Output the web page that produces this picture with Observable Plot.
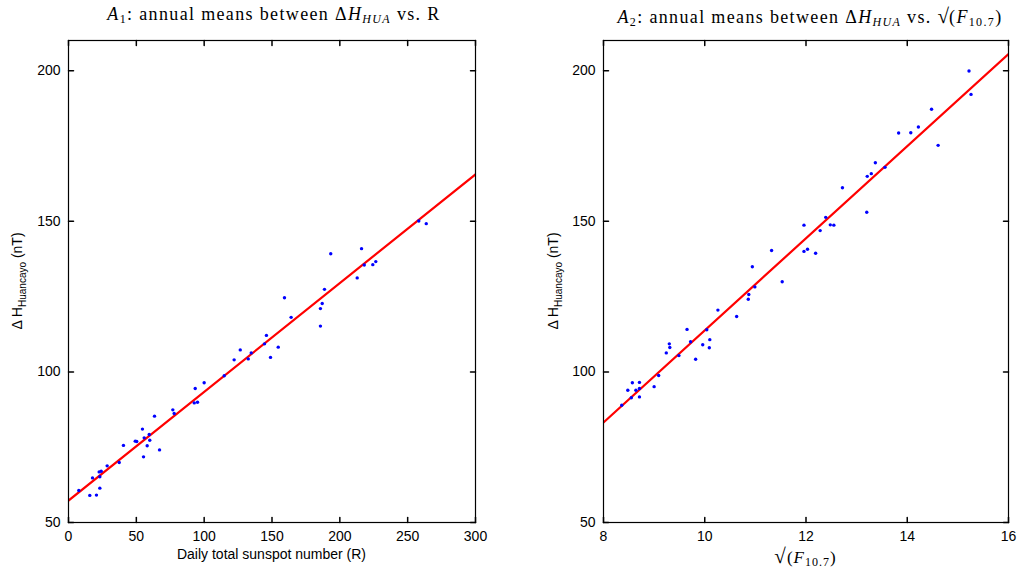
<!DOCTYPE html>
<html><head><meta charset="utf-8">
<script src="https://cdn.jsdelivr.net/npm/d3@7"></script>
<script src="https://cdn.jsdelivr.net/npm/@observablehq/plot@0.6"></script>
<style>
body{margin:0;background:#fff;}
#wrap{position:relative;width:1023px;height:570px;overflow:hidden;background:#fff;}
.panel{position:absolute;top:0;height:570px;}
.panel svg{position:absolute;top:30px;left:0;}
.title{position:absolute;top:4px;font-family:"Liberation Serif","DejaVu Serif",serif;font-size:18px;letter-spacing:1.35px;white-space:nowrap;transform:translateX(-50%);color:#000;}
.title i{font-style:italic;}
.title sub{font-size:12px;vertical-align:-3px;}
.title .rt{font-size:21px;letter-spacing:0;}
</style></head>
<body><div id="wrap"></div>
<script>
// ---- data: panel A1 (sunspot number R vs ΔH Huancayo) ----
const sunspotR = [7.6,15.7,20.6,17.7,23.1,22.6,24.1,23.1,28.5,37.4,40.5,49.2,50.3,54.5,55.8,55.3,58.0,59.9,59.5,63.4,67.1,76.9,77.9,92.7,95.1,93.4,100.0,114.8,122.1,126.6,132.5,134.7,145.9,144.5,148.9,154.6,159.2,164.1,185.7,185.7,187.0,188.7,193.3,212.8,216.0,218.0,224.3,226.5,258.2,263.7];
const dH_A1 = [60.6,59.0,59.1,64.8,61.4,66.8,67.0,65.2,68.8,69.9,75.6,77.0,76.9,81.0,78.1,71.8,75.5,77.3,79.2,85.3,74.1,87.4,86.2,89.7,89.9,94.5,96.4,98.7,104.0,107.3,104.3,106.3,112.1,109.3,104.8,108.2,124.6,118.1,115.2,121.0,122.7,127.4,139.2,131.2,140.9,135.5,135.6,136.6,150.1,149.2];
// ---- data: panel A2 (sqrt(F10.7) vs ΔH Huancayo) ----
const sqrtF107 = [8.36,8.48,8.57,8.55,8.64,8.71,8.71,8.71,9.00,9.09,9.24,9.30,9.31,9.49,9.65,9.72,9.82,9.96,10.04,10.10,10.09,10.26,10.63,10.87,10.86,10.99,10.94,11.32,11.53,11.96,12.03,12.19,11.96,12.28,12.39,12.48,12.55,12.72,13.20,13.21,13.29,13.37,13.56,13.83,14.07,14.22,14.48,14.61,15.22,15.26];
const dH_A2 = [88.9,93.9,96.4,91.4,93.9,96.5,94.5,91.7,95.1,98.8,106.3,109.3,108.1,105.4,114.1,110.0,104.2,109.0,114.0,110.7,108.0,120.5,118.4,125.7,124.1,128.2,134.9,140.3,129.9,140.0,140.7,139.4,148.7,146.9,151.3,148.8,148.7,161.1,153.0,164.9,165.8,169.4,167.9,179.3,179.4,181.3,187.2,175.2,199.9,192.1];
// ---- axes ----
const xDomainA1 = [0, 300], xTicksA1 = [0,50,100,150,200,250,300];
const xDomainA2 = [8, 16],  xTicksA2 = [8,10,12,14,16];
const yDomain = [50, 210],  yTicks = [50,100,150,200];

function fit(xs, ys){
  const mx=d3.mean(xs), my=d3.mean(ys);
  let sxy=0,sxx=0;
  xs.forEach((x,i)=>{sxy+=(x-mx)*(ys[i]-my); sxx+=(x-mx)*(x-mx);});
  const b=sxy/sxx; return {a:my-b*mx,b};
}
const tickShape = {draw(ctx,l){ctx.moveTo(0,0);ctx.lineTo(0,-l);}};
const FONT = '"Liberation Sans", Arial, sans-serif';

function makePanel(xs, ys, xDomain, xTicks, width, mL, mR){
  const f = fit(xs, ys);
  const pts = xs.map((x,i)=>({x, y:ys[i]}));
  const lineData = xDomain.map(x=>({x, y:f.a+f.b*x}));
  const T = 5;
  return Plot.plot({
    width, height: 540,
    marginLeft: mL, marginRight: mR, marginTop: 10, marginBottom: 48,
    style: {fontFamily: FONT, fontSize: "14px", background: "#fff", color: "#000"},
    x: {domain: xDomain, ticks: xTicks},
    y: {domain: yDomain, ticks: yTicks},
    marks: [
      Plot.line(lineData, {x:"x", y:"y", stroke:"#ff0000", strokeWidth:2.2, clip:true}),
      Plot.dot(pts, {x:"x", y:"y", r:1.7, fill:"#0000ff", stroke:"none"}),
      Plot.frame({stroke:"#000", strokeWidth:1.2}),
      Plot.axisX(xTicks, {tickSize:0, tickPadding:9, label:null, fontSize:14}),
      Plot.axisY(yTicks, {tickSize:0, tickPadding:8, label:null, fontSize:14}),
      Plot.vector(xTicks, {x:d=>d, frameAnchor:"bottom", rotate:0, length:T, anchor:"start", shape:tickShape, stroke:"#000"}),
      Plot.vector(xTicks, {x:d=>d, frameAnchor:"top", rotate:180, length:T, anchor:"start", shape:tickShape, stroke:"#000"}),
      Plot.vector(yTicks, {y:d=>d, frameAnchor:"left", rotate:90, length:T, anchor:"start", shape:tickShape, stroke:"#000"}),
      Plot.vector(yTicks, {y:d=>d, frameAnchor:"right", rotate:-90, length:T, anchor:"start", shape:tickShape, stroke:"#000"})
    ]
  });
}

const wrap = document.getElementById("wrap");
function addPanel(left, width, svg, titleHTML, titleX, ylabX, xlabelFn){
  const div = document.createElement("div");
  div.className = "panel"; div.style.left = left+"px"; div.style.width = width+"px";
  const t = document.createElement("div");
  t.className = "title"; t.style.left = titleX+"px"; t.innerHTML = titleHTML;
  div.appendChild(t);
  div.appendChild(svg);
  wrap.appendChild(div);
  const s = d3.select(svg);
  const yl = s.append("text")
    .attr("transform", `translate(${ylabX},251) rotate(-90)`)
    .attr("text-anchor","middle").attr("font-family",FONT).attr("font-size",14).attr("fill","#000");
  yl.append("tspan").text("Δ H");
  yl.append("tspan").attr("font-size",10).attr("dy",4).text("Huancayo");
  yl.append("tspan").attr("dy",-4).text(" (nT)");
  xlabelFn(s);
}

const svgA1 = makePanel(sunspotR, dH_A1, xDomainA1, xTicksA1, 511, 68, 36);
addPanel(0, 511, svgA1,
  '<i>A</i><sub>1</sub>: annual means between Δ<i>H</i><sub><i>HUA</i></sub> vs. R',
  274, 22,
  s => s.append("text").attr("x",271.5).attr("y",529).attr("text-anchor","middle")
        .attr("font-family",FONT).attr("font-size",14).attr("fill","#000")
        .text("Daily total sunspot number (R)"));

const svgA2 = makePanel(sqrtF107, dH_A2, xDomainA2, xTicksA2, 512, 92, 15);
addPanel(511, 512, svgA2,
  '<i>A</i><sub>2</sub>: annual means between Δ<i>H</i><sub><i>HUA</i></sub> vs. <span class="rt">√</span>(<i>F</i><sub>10.7</sub>)',
  299, 47,
  s => { const t = s.append("text").attr("x",294.5).attr("y",533).attr("text-anchor","middle")
        .attr("font-family",'"Liberation Serif", serif').attr("font-size",17).attr("letter-spacing",1).attr("fill","#000");
        t.append("tspan").attr("font-size",21).text("√");
        t.append("tspan").text("(");
        t.append("tspan").attr("font-style","italic").text("F");
        t.append("tspan").attr("font-size",12).attr("dy",3).text("10.7");
        t.append("tspan").attr("dy",-3).text(")"); });
</script></body></html>
